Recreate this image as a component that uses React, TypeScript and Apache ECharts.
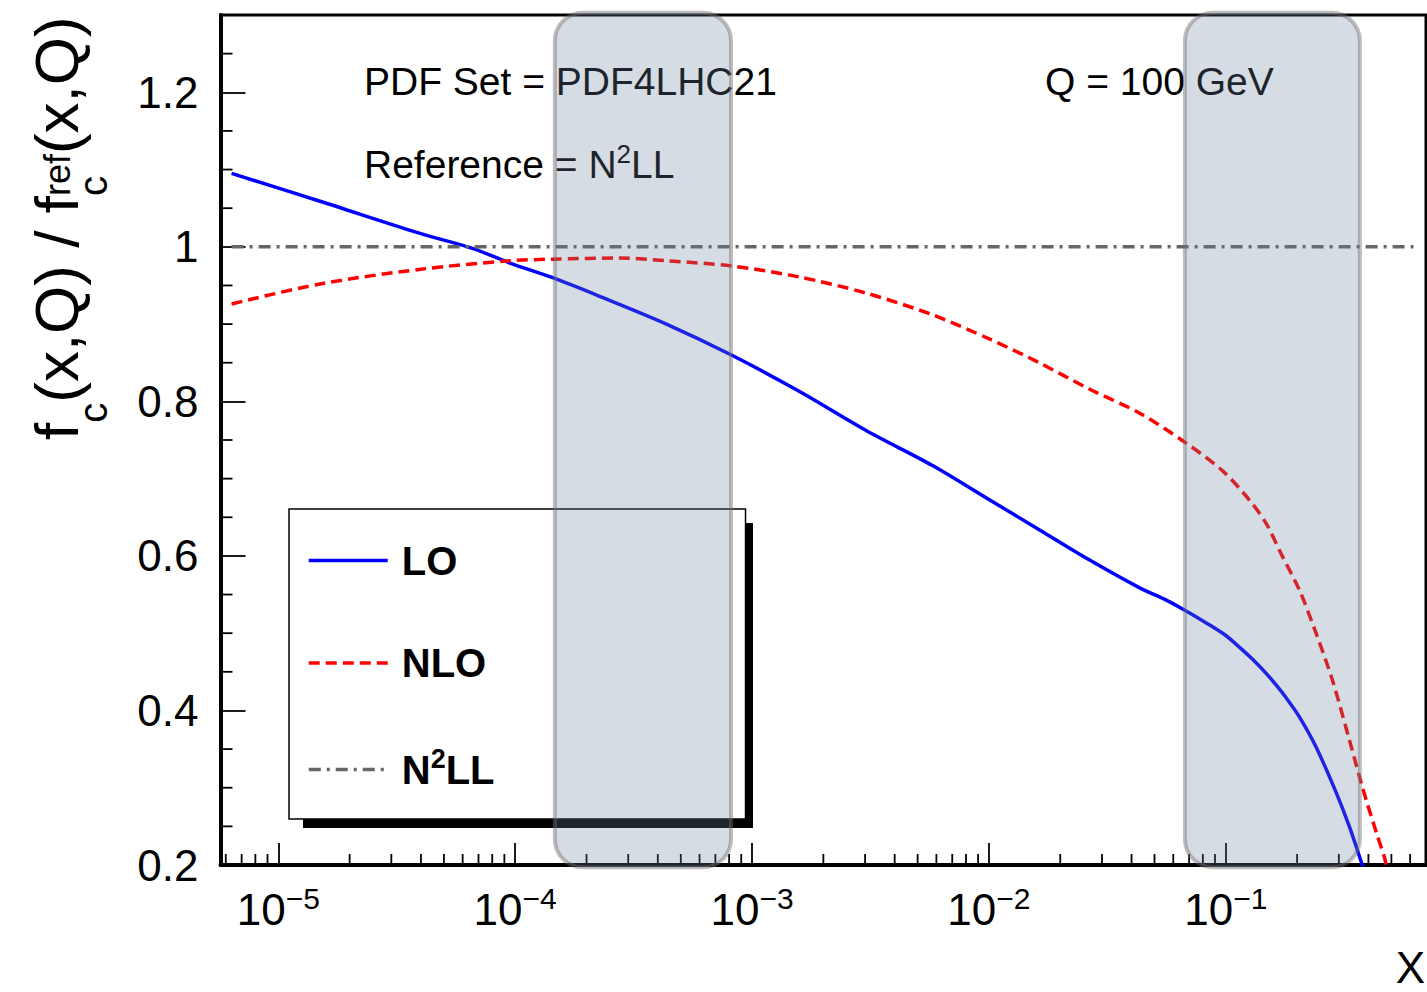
import React, { useEffect, useRef } from 'react';
import * as echarts from 'echarts';

// ---- axis ranges ----
const X_MIN = 5.7e-6;
const X_MAX = 0.7;
const Y_MIN = 0.2;
const Y_MAX = 1.3;

// ---- data ----
const LO_X = [6.35e-6, 1.5e-5, 4e-5, 6.6e-5, 9.5e-5, 1.44e-4, 2.27e-4, 4.35e-4, 8.3e-4, 1.58e-3, 3.04e-3, 5.78e-3, 1.0e-2, 1.63e-2, 2.65e-2, 4.31e-2, 5.5e-2, 6.6e-2, 8.4e-2, 0.1, 0.114, 0.13, 0.148, 0.163, 0.18, 0.205, 0.241, 0.293, 0.333, 0.374, 0.386];
const LO_Y = [1.095, 1.059, 1.017, 0.998, 0.979, 0.96, 0.936, 0.9, 0.859, 0.813, 0.762, 0.717, 0.673, 0.634, 0.595, 0.559, 0.544, 0.531, 0.512, 0.497, 0.482, 0.466, 0.448, 0.433, 0.416, 0.391, 0.352, 0.293, 0.249, 0.203, 0.19];

const NLO_X = [6.35e-6, 1.5e-5, 4e-5, 9.5e-5, 1.44e-4, 2.76e-4, 4.35e-4, 8.3e-4, 1.58e-3, 3.04e-3, 5.78e-3, 1.0e-2, 1.63e-2, 2.65e-2, 4.31e-2, 6.8e-2, 0.097, 0.126, 0.148, 0.173, 0.205, 0.241, 0.282, 0.333, 0.377, 0.433, 0.468, 0.49];
const NLO_Y = [0.926, 0.952, 0.971, 0.982, 0.984, 0.9855, 0.982, 0.975, 0.961, 0.94, 0.912, 0.881, 0.85, 0.816, 0.785, 0.746, 0.71, 0.672, 0.642, 0.6, 0.555, 0.499, 0.439, 0.361, 0.301, 0.241, 0.209, 0.18];

const REF_X = [6.35e-6, 0.62];
const REF_Y = [1, 1];

const SERIES_NAMES = ['LO', 'NLO', 'N²LL'];

// minor tick positions
const X_MINOR_TICKS = [
  6e-6, 7e-6, 8e-6, 9e-6,
  2e-5, 3e-5, 4e-5, 5e-5, 6e-5, 7e-5, 8e-5, 9e-5,
  2e-4, 3e-4, 4e-4, 5e-4, 6e-4, 7e-4, 8e-4, 9e-4,
  2e-3, 3e-3, 4e-3, 5e-3, 6e-3, 7e-3, 8e-3, 9e-3,
  2e-2, 3e-2, 4e-2, 5e-2, 6e-2, 7e-2, 8e-2, 9e-2,
  0.2, 0.3, 0.4, 0.5, 0.6,
];
const Y_MINOR_TICKS = [0.25, 0.3, 0.35, 0.45, 0.5, 0.55, 0.65, 0.7, 0.75, 0.85, 0.9, 0.95, 1.05, 1.1, 1.15, 1.25];

// shaded x-ranges
const BANDS = [
  [1.47e-4, 8.15e-4],
  [0.0672, 0.368],
];
const BAND_Y = [0.197, 1.303];

const FONT = '"Liberation Sans", Arial, Helvetica, sans-serif';

export default function App() {
  const ref = useRef<HTMLDivElement>(null);

  useEffect(() => {
    const chart = echarts.init(ref.current!, null, { renderer: 'svg' });
    const zip = (xs: number[], ys: number[]) => xs.map((x, i) => [x, ys[i]]);

    const tickData = [
      ...X_MINOR_TICKS.map((v) => [v, Y_MIN, 0]),
      ...Y_MINOR_TICKS.map((v) => [X_MIN, v, 1]),
    ];

    const option: any = {
      animation: false,
      backgroundColor: '#ffffff',
      grid: {
        left: 220.5,
        right: 1,
        top: 15,
        bottom: 127,
        show: true,
        borderColor: '#000',
        borderWidth: 3,
        backgroundColor: 'transparent',
        containLabel: false,
        outerBoundsMode: 'none',
      },
      xAxis: {
        type: 'log',
        logBase: 10,
        min: X_MIN,
        max: X_MAX,
        axisLine: { show: true, lineStyle: { color: '#000', width: 4 } },
        axisTick: { show: true, inside: true, length: 22, lineStyle: { color: '#000', width: 1.8 } },
        minorTick: { show: false },
        splitLine: { show: false },
        axisLabel: {
          margin: 18,
          color: '#000',
          fontFamily: FONT,
          hideOverlap: false,
          showMinLabel: true,
          showMaxLabel: true,
          formatter: (v: number) => {
            const e = Math.log10(v);
            if (Math.abs(e - Math.round(e)) > 1e-6) return '';
            const n = Math.round(e);
            return `{m|10}{s|${n < 0 ? '\u2212' : ''}${Math.abs(n)}}`;
          },
          rich: {
            m: { fontSize: 44, lineHeight: 52, fontFamily: FONT, color: '#000' },
            s: { fontSize: 30, lineHeight: 22, verticalAlign: 'top', fontFamily: FONT, color: '#000' },
          },
        },
      },
      yAxis: {
        type: 'value',
        min: Y_MIN,
        max: Y_MAX,
        interval: 0.2,
        axisLine: { show: true, lineStyle: { color: '#000', width: 4 } },
        axisTick: { show: true, inside: true, length: 25, lineStyle: { color: '#000', width: 1.8 } },
        splitLine: { show: false },
        minorTick: { show: false },
        axisLabel: {
          margin: 22,
          fontSize: 44,
          color: '#000',
          fontFamily: FONT,
          showMaxLabel: false,
          formatter: (v: number) => (v > 1.25 ? '' : String(parseFloat(v.toFixed(2)))),
        },
      },
      legend: {
        data: SERIES_NAMES,
        orient: 'vertical',
        left: 289,
        top: 509,
        padding: [31.5, 251, 29.5, 18],
        itemWidth: 79,
        itemHeight: 14,
        itemGap: 62.5,
        backgroundColor: '#ffffff',
        borderColor: '#000',
        borderWidth: 1.5,
        borderRadius: 0,
        selectedMode: false,
        z: 4,
        lineStyle: { width: 3.5 },
        itemStyle: { color: 'transparent', borderWidth: 0, opacity: 0 },
        formatter: (name: string) => (name === 'N²LL' ? '{b|N}{s|2}{b|LL}' : `{b|${name}}`),
        textStyle: {
          color: '#000',
          fontFamily: FONT,
          padding: [0, 0, 0, 9],
          rich: {
            b: { fontSize: 40, lineHeight: 48, fontWeight: 'bold', fontFamily: FONT, color: '#000' },
            s: { fontSize: 27, lineHeight: 20, verticalAlign: 'top', fontWeight: 'bold', fontFamily: FONT, color: '#000' },
          },
        },
      },
      series: [
        {
          name: 'LO',
          type: 'line',
          data: zip(LO_X, LO_Y),
          symbol: 'none',
          smooth: 0.3,
          clip: true,
          lineStyle: { color: '#0000ff', width: 3.5 },
          itemStyle: { color: '#0000ff' },
          emphasis: { disabled: true },
        },
        {
          name: 'NLO',
          type: 'line',
          data: zip(NLO_X, NLO_Y),
          symbol: 'none',
          smooth: 0.3,
          clip: true,
          lineStyle: { color: '#ff0000', width: 3.5, type: [11, 6] },
          itemStyle: { color: '#ff0000' },
          emphasis: { disabled: true },
        },
        {
          name: 'N²LL',
          type: 'line',
          data: zip(REF_X, REF_Y),
          symbol: 'none',
          clip: true,
          lineStyle: { color: '#666666', width: 3.5, type: [12, 6, 3, 6] },
          itemStyle: { color: '#666666' },
          emphasis: { disabled: true },
        },
        {
          name: 'minor ticks',
          type: 'custom',
          silent: true,
          data: tickData,
          encode: { x: 0, y: 1 },
          renderItem: (params: any, api: any) => {
            const kind = api.value(2);
            if (kind === 0) {
              const p = api.coord([api.value(0), Y_MIN]);
              return {
                type: 'line',
                shape: { x1: p[0], y1: p[1], x2: p[0], y2: p[1] - 11 },
                style: { stroke: '#000', lineWidth: 1.8 },
              };
            }
            const p = api.coord([X_MIN, api.value(1)]);
            return {
              type: 'line',
              shape: { x1: p[0], y1: p[1], x2: p[0] + 12, y2: p[1] },
              style: { stroke: '#000', lineWidth: 1.8 },
            };
          },
        },
      ],
    };

    chart.setOption(option);

    const toPx = (x: number, y: number) =>
      chart.convertToPixel({ xAxisIndex: 0, yAxisIndex: 0 }, [x, y]) as number[];

    const bandEls = BANDS.map(([a, b], i) => {
      const p1 = toPx(a, BAND_Y[1]);
      const p2 = toPx(b, BAND_Y[0]);
      return {
        type: 'rect',
        id: 'band' + i,
        z: 100,
        silent: true,
        shape: { x: p1[0], y: p1[1], width: p2[0] - p1[0], height: p2[1] - p1[1], r: 28 },
        style: { fill: 'rgba(106,128,156,0.28)', stroke: 'rgba(110,110,110,0.45)', lineWidth: 4 },
      };
    });

    const txt = (id: string, x: number, y: number, text: string, fontSize: number, extra: any = {}) => ({
      type: 'text',
      id,
      x,
      y,
      silent: true,
      style: {
        text,
        fontSize,
        fontFamily: FONT,
        fill: '#000',
        align: 'left',
        verticalAlign: 'middle',
        ...extra,
      },
    });

    const S = 62;
    const s = 40;
    const r = 36;
    const mid = 0.3465;
    const fW = 0.278 * S;
    const cW = 0.5 * s;
    const midW = 3.334 * S;
    const refW = 1.167 * r;
    const titleGroup = {
      type: 'group',
      id: 'ytitle',
      x: 78,
      y: 440,
      rotation: Math.PI / 2,
      silent: true,
      children: [
        txt('t1', 0, -mid * S, 'f', S),
        txt('t2', fW, 29 - mid * s, 'c', s),
        txt('t3', fW + cW, -mid * S, '(x,Q) / f', S),
        txt('t4', fW + cW + midW, -8 - mid * r, 'ref', r),
        txt('t5', fW + cW + midW, 29 - mid * s, 'c', s),
        txt('t6', fW + cW + midW + refW, -mid * S, '(x,Q)', S),
      ],
    };

    const A = 39;
    const annotations = [
      txt('a1', 364, 95 - mid * A, 'PDF Set = PDF4LHC21', A),
      txt('a2', 1045, 95 - mid * A, 'Q = 100 GeV', A),
      {
        type: 'text',
        id: 'a3',
        x: 364,
        y: 178 - mid * A,
        silent: true,
        style: {
          text: '{a|Reference = N}{s|2}{a|LL}',
          align: 'left',
          verticalAlign: 'middle',
          fill: '#000',
          fontFamily: FONT,
          rich: {
            a: { fontSize: A, lineHeight: 46, fontFamily: FONT, fill: '#000', color: '#000' },
            s: { fontSize: 26, lineHeight: 20, verticalAlign: 'top', fontFamily: FONT, fill: '#000', color: '#000' },
          },
        },
      },
      txt('xname', 1425, 983 - mid * 44, 'X', 44, { align: 'right' }),
    ];

    const legendShadow = {
      type: 'rect',
      id: 'legendShadow',
      z: 3,
      silent: true,
      shape: { x: 303, y: 523, width: 450, height: 305 },
      style: { fill: '#000' },
    };

    chart.setOption({ graphic: [legendShadow, titleGroup, ...annotations, ...bandEls] });

    return () => chart.dispose();
  }, []);

  return <div ref={ref} style={{ position: 'absolute', left: 0, top: 0, width: 1427, height: 992 }} />;
}
